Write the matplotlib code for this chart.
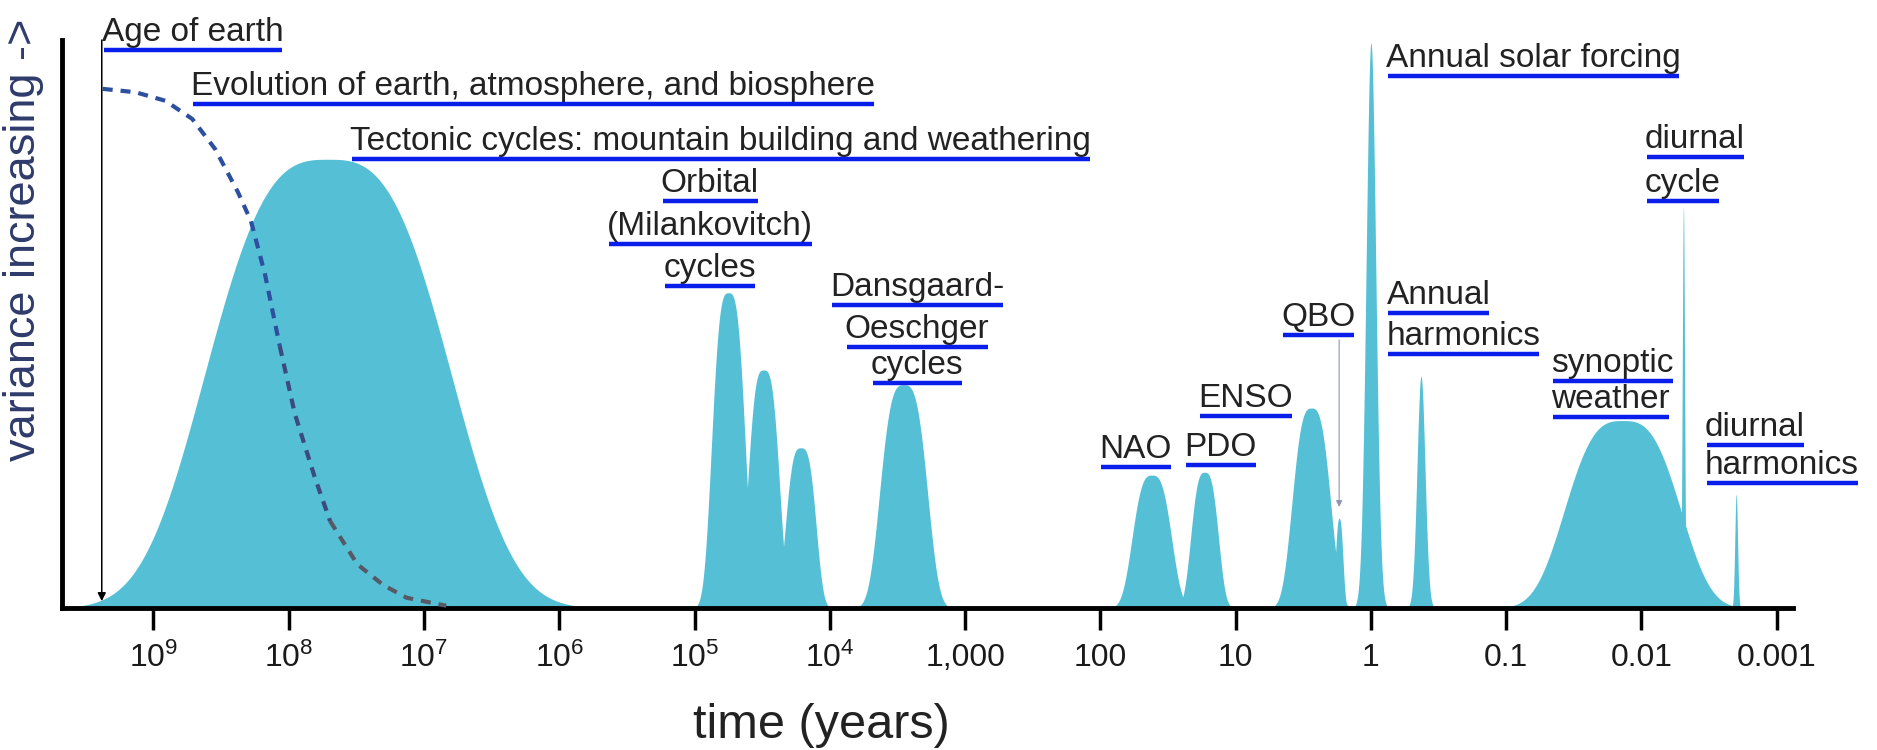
import numpy as np
import matplotlib
matplotlib.use('Agg')
import matplotlib.pyplot as plt

plt.rcParams['font.family'] = ['Liberation Sans', 'DejaVu Sans']
plt.rcParams['mathtext.fontset'] = 'custom'
plt.rcParams['mathtext.rm'] = 'Liberation Sans'

FILL = '#55C0D5'
ULINE = '#0A1EEB'
TEXT = '#222222'

# spectral peaks: centre (log10 years), relative variance, half width at half max (decades), shape exponent
peak_names = ['tectonic', 'orbital 1', 'orbital 2', 'orbital 3', 'D-O', 'NAO', 'PDO', 'ENSO', 'QBO',
              'annual', 'annual harmonics', 'synoptic', 'diurnal', 'diurnal harmonics']
peak_center = [7.71, 4.75, 4.49, 4.215, 3.455, 1.62, 1.23, 0.441, 0.235, 0.0, -0.37, -1.86, -2.31, -2.70]
peak_height = [0.79, 0.555, 0.419, 0.282, 0.393, 0.234, 0.239, 0.352, 0.158, 0.995, 0.408, 0.33, 0.706, 0.20]
peak_width = [0.93, 0.127, 0.12, 0.115, 0.18, 0.15, 0.105, 0.147, 0.03, 0.042, 0.035, 0.44, 0.01, 0.012]
peak_shape = [3.0, 3.2, 3.2, 3.2, 3.2, 3, 3, 3, 2.5, 2, 2, 3, 2, 2]

# dashed "evolution" curve
evo_log = [9.375, 9.132, 8.912, 8.713, 8.544, 8.375, 8.279, 8.176, 8.066, 7.955, 7.806, 7.694,
           7.493, 7.299, 7.127, 6.836]
evo_var = [0.914, 0.908, 0.893, 0.861, 0.808, 0.732, 0.681, 0.588, 0.461, 0.342, 0.229, 0.153,
           0.077, 0.040, 0.018, 0.004]

age_of_earth_log = 9.382
qbo_arrow_top = 0.472
qbo_arrow_tip = 0.178

tick_logs = [9, 8, 7, 6, 5, 4, 3, 2, 1, 0, -1, -2, -3]
tick_labels = [r'$\mathregular{10^{9}}$', r'$\mathregular{10^{8}}$', r'$\mathregular{10^{7}}$',
               r'$\mathregular{10^{6}}$', r'$\mathregular{10^{5}}$', r'$\mathregular{10^{4}}$',
               '1,000', '100', '10', '1', '0.1', '0.01', '0.001']

label_text = ['Age of earth', 'Evolution of earth, atmosphere, and biosphere',
              'Tectonic cycles: mountain building and weathering',
              'Orbital', '(Milankovitch)', 'cycles', 'Dansgaard-', 'Oeschger', 'cycles',
              'NAO', 'PDO', 'ENSO', 'QBO', 'Annual solar forcing', 'Annual', 'harmonics',
              'diurnal', 'cycle', 'synoptic', 'weather', 'diurnal', 'harmonics']
label_x = [9.382, 8.72, 7.545, 4.888, 4.888, 4.888, 3.356, 3.356, 3.356, 1.741, 1.112, 0.926, 0.39,
           -0.108, -0.115, -0.115, -2.023, -2.023, -1.333, -1.333, -2.47, -2.47]
label_y = [0.983, 0.887, 0.790, 0.717, 0.641, 0.567, 0.533, 0.460, 0.396, 0.248, 0.252, 0.338, 0.481,
           0.937, 0.519, 0.447, 0.794, 0.717, 0.400, 0.336, 0.287, 0.220]
label_ha = ['left', 'left', 'left', 'center', 'center', 'center', 'center', 'center', 'center',
            'center', 'center', 'center', 'center', 'left', 'left', 'left', 'left', 'left',
            'left', 'left', 'left', 'left']

fig = plt.figure(figsize=(18.77, 7.5), dpi=100)
ax = fig.add_axes([62 / 1877, 1 - 608 / 750, (1793 - 62) / 1877, (608 - 40) / 750])

# build the spectrum as the envelope of the individual peaks
lg = np.linspace(-3.3, 9.8, 40000)
spec = np.zeros_like(lg)
for c, h, w, p in zip(peak_center, peak_height, peak_width, peak_shape):
    spec = np.maximum(spec, h * np.exp(-np.log(2) * (np.abs(lg - c) / w) ** p))
ax.fill_between(10 ** lg, 0, spec, color=FILL, lw=0, zorder=1)

# evolution curve: blue fading to grey
ev_x = 10 ** np.array(evo_log)
ev_y = np.array(evo_var)
for i0, i1, col in [(0, 9, '#2D4FA0'), (8, 12, '#3C4A80'), (11, 16, '#555A66')]:
    ax.plot(ev_x[i0:i1], ev_y[i0:i1], color=col, lw=3.0, dashes=(2.4, 1.9), zorder=3,
            solid_capstyle='butt', dash_capstyle='butt')

# age of earth arrow
ax.annotate('', xy=(10 ** age_of_earth_log, 0.012), xytext=(10 ** age_of_earth_log, 1.0),
            arrowprops=dict(arrowstyle='-|>', color='black', lw=1.1, mutation_scale=12,
                            shrinkA=0, shrinkB=0), zorder=4, annotation_clip=False)

# QBO pointer
qbo_x = 10 ** peak_center[peak_names.index('QBO')]
ax.annotate('', xy=(qbo_x, qbo_arrow_tip), xytext=(qbo_x, qbo_arrow_top),
            arrowprops=dict(arrowstyle='-|>', color='#8C95B8', lw=0.8, mutation_scale=9,
                            shrinkA=0, shrinkB=0), zorder=4)

ax.set_xscale('log')
ax.set_xlim(10 ** 9.676, 10 ** -3.12)
ax.set_ylim(0, 1)
ax.set_xticks([10.0 ** t for t in tick_logs])
ax.set_xticklabels(tick_labels)
ax.minorticks_off()
ax.set_yticks([])
ax.tick_params(axis='x', length=16, width=2.5, direction='out', pad=9, labelsize=23,
               labelcolor='#1a1a1a')
for s in ['top', 'right']:
    ax.spines[s].set_visible(False)
for s in ['left', 'bottom']:
    ax.spines[s].set_linewidth(3.5)

texts = []
for t, x, y, ha in zip(label_text, label_x, label_y, label_ha):
    texts.append(ax.annotate(t, (10 ** x, y), xytext=(0, 6.5), textcoords='offset points',
                             ha=ha, va='baseline', fontsize=24, color=TEXT, zorder=5,
                             annotation_clip=False))

fig.text(821 / 1877, 1 - 726 / 750, 'time (years)', ha='center', va='center', fontsize=35,
         color=TEXT)
fig.text(24 / 1877, 1 - 240 / 750, 'variance increasing ->', rotation=90, ha='center',
         va='center', fontsize=32.5, color='#2E3B6B')

# underline each label
fig.canvas.draw()
renderer = fig.canvas.get_renderer()
inv = ax.transData.inverted()
for txt, y in zip(texts, label_y):
    bb = txt.get_window_extent(renderer)
    x0 = inv.transform((bb.x0 + 2, 0))[0]
    x1 = inv.transform((bb.x1 - 1, 0))[0]
    ax.plot([x0, x1], [y, y], color=ULINE, lw=3.2, solid_capstyle='butt', clip_on=False, zorder=5)

fig.savefig('out.png', dpi=100)
